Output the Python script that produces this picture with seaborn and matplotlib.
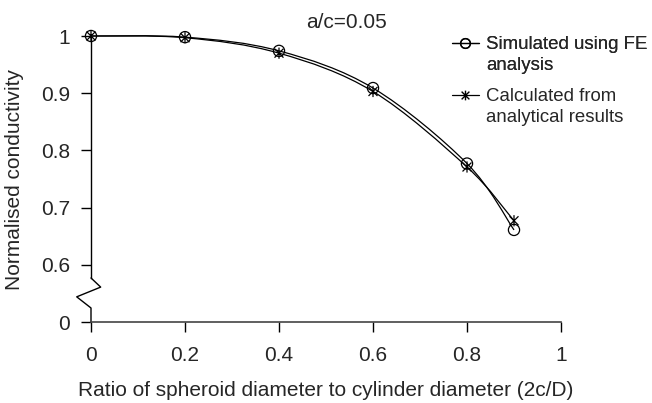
import numpy as np
import pandas as pd
import matplotlib
matplotlib.use('Agg')
import matplotlib.pyplot as plt
import seaborn as sns
from matplotlib.path import Path
from matplotlib.patches import PathPatch
from matplotlib.lines import Line2D

# ---- data ----
ratio = [0, 0.2, 0.4, 0.6, 0.8, 0.9]
simulated = [1.0, 0.998, 0.974, 0.909, 0.777, 0.661]
calculated = [1.0, 0.997, 0.970, 0.903, 0.771, 0.677]
series_names = ["Simulated using FE\nanalysis", "Calculated from\nanalytical results"]
x_ticks = [0, 0.2, 0.4, 0.6, 0.8, 1]
x_tick_labels = ["0", "0.2", "0.4", "0.6", "0.8", "1"]
y_ticks = [0.5, 0.6, 0.7, 0.8, 0.9, 1.0]
y_tick_labels = ["0", "0.6", "0.7", "0.8", "0.9", "1"]
title_text = "a/c=0.05"
x_label = "Ratio of spheroid diameter to cylinder diameter (2c/D)"
y_label = "Normalised conductivity"

sns.set_theme(style="white")
plt.rcParams['font.family'] = ['Liberation Sans', 'DejaVu Sans']

W, H = 652, 403
fig = plt.figure(figsize=(W / 100, H / 100), dpi=100)
ax = fig.add_axes([91 / W, 1 - 322 / H, 470 / W, 286 / H])

df = pd.DataFrame({
    "ratio": ratio * 2,
    "value": simulated + calculated,
    "series": [series_names[0]] * len(ratio) + [series_names[1]] * len(ratio),
})

star = Path([(-1, -1), (1, 1), (-1, 1), (1, -1), (0, -1.25), (0, 1.25)],
            [Path.MOVETO, Path.LINETO, Path.MOVETO, Path.LINETO, Path.MOVETO, Path.LINETO])


def smooth_path(x, y):
    pts = np.column_stack([x, y]).astype(float)
    n = len(pts)
    verts = [pts[0]]
    codes = [Path.MOVETO]
    for i in range(n - 1):
        p0 = pts[i - 1] if i > 0 else pts[i]
        p1 = pts[i]
        p2 = pts[i + 1]
        p3 = pts[i + 2] if i + 2 < n else pts[i + 1]
        c1 = p1 + (p2 - p0) / 6
        c2 = p2 - (p3 - p1) / 6
        verts += [c1, c2, p2]
        codes += [Path.CURVE4] * 3
    return Path(verts, codes)


for name in series_names:
    sub = df[df["series"] == name]
    ax.add_patch(PathPatch(smooth_path(sub["ratio"], sub["value"]), fill=False,
                           edgecolor="black", lw=0.9, clip_on=False, zorder=3))

sub = df[df["series"] == series_names[0]]
sns.scatterplot(data=sub, x="ratio", y="value", marker="o", s=65, facecolors="none",
                edgecolors="black", linewidths=0.9, ax=ax, clip_on=False, zorder=4, legend=False)
sub = df[df["series"] == series_names[1]]
sns.scatterplot(data=sub, x="ratio", y="value", marker=star, s=65, facecolors="none",
                edgecolors="black", linewidths=0.9, ax=ax, clip_on=False, zorder=5, legend=False)

ax.set_xlim(0, 1)
ax.set_ylim(0.5, 1.0)
ax.set_xticks(x_ticks)
ax.set_xticklabels(x_tick_labels)
ax.set_yticks(y_ticks)
ax.set_yticklabels(y_tick_labels)
ax.set_xlabel(x_label, fontsize=15, labelpad=12)
ax.set_ylabel(y_label, fontsize=15, labelpad=12)
ax.tick_params(axis="both", labelsize=15, length=7, width=1, color="black",
               direction="out", bottom=True, left=True)
ax.tick_params(axis="x", pad=10)
ax.tick_params(axis="y", pad=8)

for s in ["top", "right"]:
    ax.spines[s].set_visible(False)
ax.spines["bottom"].set_color("#444444")
ax.spines["bottom"].set_linewidth(1.2)
ax.spines["left"].set_color("black")
ax.spines["left"].set_linewidth(1.0)
ax.spines["left"].set_bounds(0.577, 1.0)
ax.grid(False)

# axis break zigzag
ax.plot([0, 0.0206, -0.0304, 0, 0], [0.577, 0.561, 0.544, 0.5245, 0.5],
        transform=ax.get_yaxis_transform(), color="black", lw=1.0, clip_on=False)

fig.text(346 / W, 1 - 23 / H, title_text, ha="center", va="center", fontsize=15)

# legend: two entries, each label wrapping onto a second row
h_circle = Line2D([], [], color="black", lw=0.9, marker="o", mfc="none", mec="black", markersize=7)
h_star = Line2D([], [], color="black", lw=0.9, marker=star, mfc="none", mec="black", markersize=7)
blank = Line2D([], [], color="none")
tops = [1 - 36 / H, 1 - 88 / H]
legs = []
for h, name, top in zip([h_circle, h_star], series_names, tops):
    l1, l2 = name.split("\n")
    leg = fig.legend(handles=[h, blank], labels=[l1, l2], loc="upper left",
                     bbox_to_anchor=(452 / W, top), bbox_transform=fig.transFigure,
                     frameon=False, fontsize=13.4, handlelength=1.45, handletextpad=0.4,
                     labelspacing=0.23, borderpad=0, borderaxespad=0)
    legs.append(leg)
for leg in legs[:-1]:
    fig.add_artist(leg)

fig.savefig("out.png", dpi=100)
